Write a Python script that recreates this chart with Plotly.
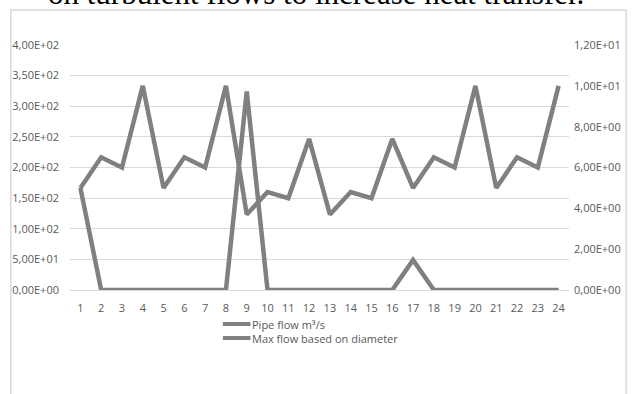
import plotly.graph_objects as go

# Hour index along the x axis
categories = [str(i) for i in range(1, 25)]

# Pipe flow (secondary axis, m³/s)
pipe_flow = [5, 6.5, 6, 10, 5, 6.5, 6, 10, 3.7, 4.8, 4.5, 7.4,
             3.7, 4.8, 4.5, 7.4, 5, 6.5, 6, 10, 5, 6.5, 6, 10]

# Max flow based on diameter (primary axis)
max_flow = [166.7, 0, 0, 0, 0, 0, 0, 0, 324, 0, 0, 0,
            0, 0, 0, 0, 49, 0, 0, 0, 0, 0, 0, 0]

series_names = ["Pipe flow m³/s", "Max flow based on diameter"]

left_ticks = [0, 50, 100, 150, 200, 250, 300, 350, 400]
left_labels = ["0,00E+00", "5,00E+01", "1,00E+02", "1,50E+02", "2,00E+02",
               "2,50E+02", "3,00E+02", "3,50E+02", "4,00E+02"]
right_ticks = [0, 2, 4, 6, 8, 10, 12]
right_labels = ["0,00E+00", "2,00E+00", "4,00E+00", "6,00E+00",
                "8,00E+00", "1,00E+01", "1,20E+01"]

caption = "on turbulent flows to increase heat transfer."

W, H = 633, 394
L, R, T, B = 67, 60, 45, 104
pw, ph = W - L - R, H - T - B


def px_x(x):
    return (x - L) / pw


def px_y(y):
    return (H - B - y) / ph


LINE = "#808080"
TXT = "#595959"
FONT = "Open Sans"

fig = go.Figure()
fig.add_trace(go.Scatter(
    x=categories, y=pipe_flow, name=series_names[0], mode="lines",
    line=dict(color=LINE, width=4.5), yaxis="y2", showlegend=False,
))
fig.add_trace(go.Scatter(
    x=categories, y=max_flow, name=series_names[1], mode="lines",
    line=dict(color=LINE, width=4.5), yaxis="y", showlegend=False,
))

# Legend drawn below the plot: a short line sample plus the series name
legend_rows = [324, 338]
shapes = [dict(
    type="rect", xref="paper", yref="paper",
    x0=px_x(7), x1=px_x(631), y0=px_y(420), y1=px_y(10),
    line=dict(color="#d9d9d9", width=1.5), fillcolor="rgba(0,0,0,0)",
    layer="below",
)]
annotations = [dict(
    text=caption, xref="paper", yref="paper",
    x=px_x(43), y=px_y(13), xanchor="left", yanchor="bottom",
    showarrow=False,
    font=dict(family="Liberation Serif", size=31, color="#000000"),
)]
for name, row in zip(series_names, legend_rows):
    shapes.append(dict(
        type="line", xref="paper", yref="paper",
        x0=px_x(222), x1=px_x(250), y0=px_y(row), y1=px_y(row),
        line=dict(color=LINE, width=4),
    ))
    annotations.append(dict(
        text=name, xref="paper", yref="paper",
        x=px_x(250), y=px_y(row), xanchor="left", yanchor="middle",
        showarrow=False, font=dict(family=FONT, size=11, color=TXT),
    ))

fig.update_layout(
    width=W, height=H,
    margin=dict(l=L, r=R, t=T, b=B),
    paper_bgcolor="white", plot_bgcolor="white",
    font=dict(family=FONT, size=11, color=TXT),
    showlegend=False,
    xaxis=dict(
        type="category", range=[-0.5, 23.5], showgrid=False,
        showline=True, linecolor="#d9d9d9", linewidth=1,
        ticks="", ticklabelstandoff=8,
        tickfont=dict(family=FONT, size=11, color=TXT),
    ),
    yaxis=dict(
        range=[0, 400], tickvals=left_ticks, ticktext=left_labels,
        showgrid=True, gridcolor="#d9d9d9", gridwidth=1,
        zeroline=False, showline=False, ticks="", ticklabelstandoff=10,
        tickfont=dict(family=FONT, size=11, color=TXT),
    ),
    yaxis2=dict(
        range=[0, 12], tickvals=right_ticks, ticktext=right_labels,
        overlaying="y", side="right", showgrid=False, zeroline=False,
        showline=False, ticks="", ticklabelstandoff=4,
        tickfont=dict(family=FONT, size=11, color=TXT),
    ),
    shapes=shapes,
    annotations=annotations,
)

fig.write_html("out.html")
